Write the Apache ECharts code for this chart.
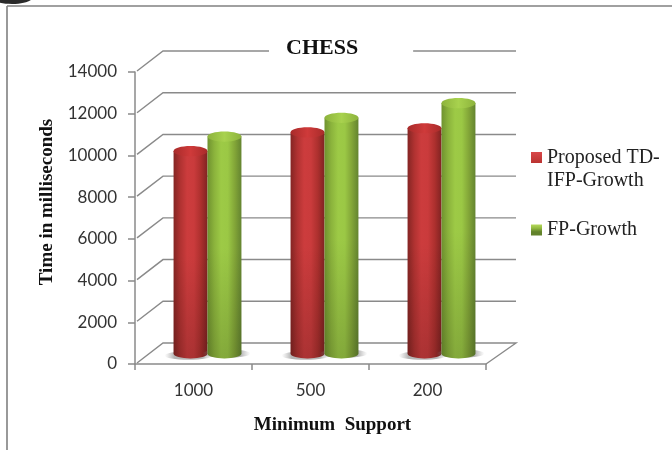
<!DOCTYPE html>
<html>
<head>
<meta charset="utf-8">
<style>html,body{margin:0;padding:0;background:#fff}#chart{width:672px;height:450px}</style>
<script src="https://cdn.jsdelivr.net/npm/echarts@6/dist/echarts.min.js"></script>
</head>
<body>
<div id="chart"></div>
<script>
// Mining time on the CHESS dataset, by minimum support threshold
const supports = ['1000', '500', '200'];
const proposedTimes = [9700, 10600, 10800];
const fpGrowthTimes = [10400, 11300, 12000];
const yTicks = [0, 2000, 4000, 6000, 8000, 10000, 12000, 14000];
const proposedName = 'Proposed TD-IFP-Growth';
const fpGrowthName = 'FP-Growth';

// Pseudo-3D box: how far the back wall sits behind the front plane
const DEPTH_X = 28;
const DEPTH_Y = -21;
const GRID_COLOR = '#8a8a8a';

function hGrad(stops) {
  return new echarts.graphic.LinearGradient(0, 0, 1, 0,
    stops.map((c, i) => ({ offset: i / (stops.length - 1), color: c })));
}
function vGrad(stops) {
  return new echarts.graphic.LinearGradient(0, 0, 0, 1,
    stops.map((c, i) => ({ offset: i / (stops.length - 1), color: c })));
}

const palettes = {
  red: {
    body: ['#842523', '#b03231', '#cc3c3d', '#ca3b3c', '#ad302e', '#802322'],
    cap: ['#a82b2a', '#cf3a3a', '#a82b2a'],
    swatch: ['#d8484a', '#b93230', '#7c2220', '#7c2220']
  },
  green: {
    body: ['#6f922f', '#8bb33c', '#9dca46', '#9bc845', '#83a638', '#648430'],
    cap: ['#8db33c', '#a8d24e', '#8db33c'],
    swatch: ['#b5d85c', '#93bb40', '#62822b', '#62822b']
  }
};

// One cylinder per value; the offset shifts it beside its neighbour in the cluster
function cylinder(palette, side) {
  return function (params, api) {
    const idx = api.value(0);
    const base = api.coord([idx, 0]);
    const top = api.coord([idx, api.value(1)]);
    const band = api.size([1, 0])[0];
    const w = band * 0.29;
    const rx = w / 2;
    const ry = rx * 0.3;
    const cx = base[0] + DEPTH_X / 2 + side * rx;
    const yBase = base[1] + DEPTH_Y / 2;
    const yTop = top[1] + DEPTH_Y / 2;
    const bodyPath = `M${cx - rx} ${yTop}L${cx - rx} ${yBase}A${rx} ${ry} 0 0 0 ${cx + rx} ${yBase}L${cx + rx} ${yTop}Z`;
    return {
      type: 'group',
      children: [
        // Soft contact shadow on the floor, fading out past the cylinder's sides
        {
          type: 'ellipse',
          shape: { cx: cx + side * 2, cy: yBase + side * -1 + 1, rx: rx + 7, ry: ry * 0.85 },
          style: {
            fill: hGrad(['rgba(150,150,150,0)', 'rgba(120,120,120,0.55)', 'rgba(120,120,120,0.55)',
              'rgba(120,120,120,0.55)', 'rgba(120,120,120,0.55)', 'rgba(150,150,150,0)'])
          }
        },
        { type: 'path', shape: { pathData: bodyPath }, style: { fill: hGrad(palette.body) } },
        {
          type: 'path',
          shape: { pathData: bodyPath },
          style: { fill: vGrad(['rgba(0,0,0,0)', 'rgba(0,0,0,0)', 'rgba(0,0,0,0.16)']) }
        },
        {
          type: 'ellipse',
          shape: { cx: cx, cy: yTop, rx: rx, ry: ry },
          style: { fill: hGrad(palette.cap) }
        }
      ]
    };
  };
}

// Wall gridlines: from the front axis, back along the side wall, then across the rear
function wallLine(params, api) {
  const v = api.value(0);
  const front = api.coord([0, v]);
  const right = api.coord([supports.length - 1, v]);
  const band = api.size([1, 0])[0];
  const x0 = front[0] - band / 2;
  const x1 = right[0] + band / 2;
  const y = front[1];
  const pts = [[x0 + 2, y - 1], [x0 + DEPTH_X, y + DEPTH_Y], [x1 + DEPTH_X + 2, y + DEPTH_Y]];
  if (v === 0) pts.push([x1, y]);
  return {
    type: 'polyline',
    shape: { points: pts },
    style: { fill: null, stroke: GRID_COLOR, lineWidth: 1.4 }
  };
}

const chart = echarts.init(document.getElementById('chart'), null, { renderer: 'canvas' });

chart.setOption({
  animation: false,
  backgroundColor: '#ffffff',
  title: {
    text: 'CHESS',
    left: 269,
    top: 35,
    padding: [2, 55, 2, 17],
    backgroundColor: '#ffffff',
    textStyle: { fontFamily: 'Liberation Serif', fontWeight: 'bold', fontSize: 22, color: '#111' },
    z: 10
  },
  grid: { left: 135, right: 186, top: 72, bottom: 86, outerBoundsMode: 'none' },
  legend: [
    {
      left: 531,
      top: 146,
      padding: 0,
      orient: 'vertical',
      data: [proposedName],
      selectedMode: false,
      // Swatch sits in the upper part of the tall icon box so it lines up with the first text line
      icon: 'path://M0 0H11V11H0Z M0 34H0.01V34.01H0Z',
      itemWidth: 11,
      itemHeight: 34,
      itemGap: 0,
      formatter: () => 'Proposed TD-\nIFP-Growth',
      textStyle: { fontFamily: 'Liberation Serif', fontSize: 20, color: '#222', lineHeight: 23 }
    },
    {
      left: 531,
      top: 220,
      padding: 0,
      orient: 'vertical',
      data: [fpGrowthName],
      selectedMode: false,
      icon: 'rect',
      itemWidth: 11,
      itemHeight: 11,
      textStyle: { fontFamily: 'Liberation Serif', fontSize: 20, color: '#222' }
    }
  ],
  xAxis: {
    type: 'category',
    data: supports,
    boundaryGap: true,
    name: 'Minimum  Support',
    nameLocation: 'middle',
    nameGap: 52,
    nameTextStyle: {
      fontFamily: 'Liberation Serif', fontWeight: 'bold', fontSize: 19, color: '#111',
      padding: [0, 0, 0, 44]
    },
    axisLine: { lineStyle: { color: GRID_COLOR, width: 1.5 } },
    axisTick: { show: true, alignWithLabel: false, length: 6, lineStyle: { color: GRID_COLOR, width: 1.5 } },
    axisLabel: { fontFamily: 'Lato', fontSize: 17, color: '#333', margin: 18 }
  },
  yAxis: {
    type: 'value',
    min: 0,
    max: 14000,
    interval: 2000,
    name: 'Time in milliseconds',
    nameLocation: 'middle',
    nameRotate: 90,
    nameGap: 70,
    nameTextStyle: {
      fontFamily: 'Liberation Serif', fontWeight: 'bold', fontSize: 19, color: '#111',
      padding: [0, 0, 0, 32]
    },
    axisLine: { show: true, onZero: false, lineStyle: { color: GRID_COLOR, width: 1.5 } },
    axisTick: { show: true, length: 7, lineStyle: { color: GRID_COLOR, width: 1.5 } },
    splitLine: { show: false },
    axisLabel: { fontFamily: 'Lato', fontSize: 17, color: '#333', margin: 18, padding: [5, 0, 0, 0], formatter: v => String(v) }
  },
  series: [
    {
      name: 'walls',
      type: 'custom',
      silent: true,
      z: 1,
      clip: false,
      data: yTicks.map(v => [v]),
      encode: { y: 0 },
      renderItem: wallLine
    },
    {
      name: proposedName,
      type: 'custom',
      z: 3,
      clip: false,
      itemStyle: { color: vGrad(palettes.red.swatch) },
      data: proposedTimes.map((v, i) => [i, v]),
      encode: { x: 0, y: 1 },
      renderItem: cylinder(palettes.red, -1)
    },
    {
      name: fpGrowthName,
      type: 'custom',
      z: 3,
      clip: false,
      itemStyle: { color: vGrad(palettes.green.swatch) },
      data: fpGrowthTimes.map((v, i) => [i, v]),
      encode: { x: 0, y: 1 },
      renderItem: cylinder(palettes.green, 1)
    }
  ],
  graphic: [
    // Page frame running along the top and left edges, with the emblem cut off at the corner
    { type: 'ellipse', shape: { cx: 12, cy: -2, rx: 20, ry: 6 }, style: { fill: '#2a2a2a' }, z: 20 },
    { type: 'line', shape: { x1: 7, y1: 6, x2: 672, y2: 6 }, style: { stroke: '#808080', lineWidth: 1.6 }, z: 20 },
    { type: 'line', shape: { x1: 7, y1: 6, x2: 7, y2: 450 }, style: { stroke: '#808080', lineWidth: 1.6 }, z: 20 }
  ]
});
</script>
</body>
</html>
